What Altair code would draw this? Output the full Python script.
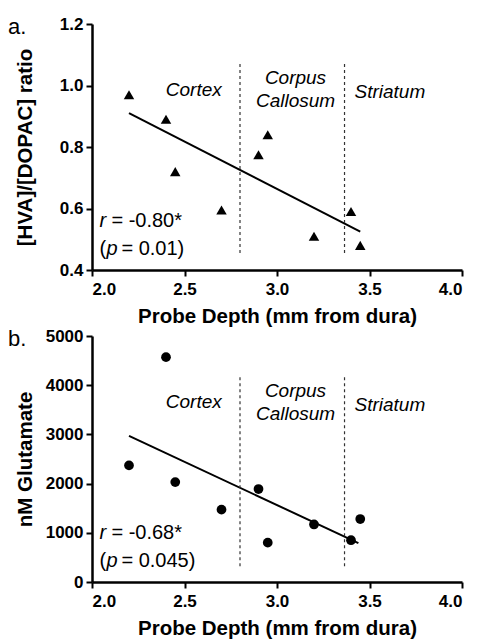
import altair as alt
import pandas as pd

# ---- data ----
depth_a = [2.2, 2.4, 2.45, 2.7, 2.9, 2.95, 3.2, 3.4, 3.45]
ratio_a = [0.97, 0.89, 0.72, 0.595, 0.775, 0.84, 0.51, 0.59, 0.48]
fit_a_x = [2.2, 3.45]
fit_a_y = [0.91, 0.525]

depth_b = [2.2, 2.4, 2.45, 2.7, 2.9, 2.95, 3.2, 3.4, 3.45]
glut_b = [2370, 4570, 2030, 1470, 1890, 800, 1170, 850, 1280]
fit_b_x = [2.2, 3.44]
fit_b_y = [2970, 790]

divider_x = [2.8, 3.365]
region_names = ["Cortex", "Corpus", "Callosum", "Striatum"]
region_x = [2.55, 3.1, 3.1, 3.61]
region_y_a = [0.985, 1.024, 0.95, 0.98]
region_y_b = [3650, 3890, 3420, 3600]

x_ticks = [2.0, 2.5, 3.0, 3.5, 4.0]
y_ticks_a = [0.4, 0.6, 0.8, 1.0, 1.2]
y_ticks_b = [0, 1000, 2000, 3000, 4000, 5000]

FONT = "Liberation Sans"
W = 370
H = 246


def panel(xs, ys, fx, fy, ydom, yticks, yfmt, ytitle, xtitle, shape, size,
          div_y, region_y, r_text, p_text, stat_y, label, title_y):
    pts = pd.DataFrame({"x": xs, "y": ys})
    fit = pd.DataFrame({"x": fx, "y": fy})
    div = pd.DataFrame({"x": divider_x, "y": [div_y[0]] * 2, "y2": [div_y[1]] * 2})
    reg = pd.DataFrame({"x": region_x, "y": region_y, "t": region_names})
    stat = pd.DataFrame({"x": [2.04, 2.04], "y": stat_y})

    xsc = alt.Scale(domain=[2.0, 4.0], nice=False, zero=False)
    ysc = alt.Scale(domain=ydom, nice=False, zero=False)
    xax = alt.Axis(values=x_ticks, format=".1f", title=xtitle, titlePadding=9)
    yax = alt.Axis(values=yticks, format=yfmt, title=ytitle, titleX=-57,
                   titleY=title_y, titleAngle=-90, titleAlign="center",
                   titleBaseline="bottom", labelPadding=3)

    base_x = alt.X("x:Q", scale=xsc, axis=xax)
    base_y = alt.Y("y:Q", scale=ysc, axis=yax)

    points = alt.Chart(pts).mark_point(shape=shape, filled=True, color="black",
                                       size=size, opacity=1).encode(x=base_x, y=base_y)
    line = alt.Chart(fit).mark_line(color="black", strokeWidth=2).encode(x="x:Q", y="y:Q")
    rules = alt.Chart(div).mark_rule(color="#333333", strokeWidth=1.2,
                                     strokeDash=[3, 3]).encode(x="x:Q", y="y:Q", y2="y2:Q")
    regions = alt.Chart(reg).mark_text(font=FONT, fontSize=19, fontStyle="italic",
                                       color="black").encode(x="x:Q", y="y:Q", text="t:N")
    s_r = alt.Chart(stat.iloc[[0]]).mark_text(font=FONT, fontSize=20, fontStyle="italic",
                                              align="left", color="black", text="r").encode(x="x:Q", y="y:Q")
    s_r2 = alt.Chart(stat.iloc[[0]]).mark_text(font=FONT, fontSize=20, align="left",
                                               color="black", dx=12, text=r_text).encode(x="x:Q", y="y:Q")
    s_p1 = alt.Chart(stat.iloc[[1]]).mark_text(font=FONT, fontSize=20, align="left",
                                               color="black", text="(").encode(x="x:Q", y="y:Q")
    s_p2 = alt.Chart(stat.iloc[[1]]).mark_text(font=FONT, fontSize=20, fontStyle="italic",
                                               align="left", color="black", dx=7, text="p").encode(x="x:Q", y="y:Q")
    s_p3 = alt.Chart(stat.iloc[[1]]).mark_text(font=FONT, fontSize=20, align="left",
                                               color="black", dx=22, text=p_text).encode(x="x:Q", y="y:Q")
    lab = alt.Chart(pts.iloc[[0]]).mark_text(font=FONT, fontSize=22, align="left",
                                             baseline="alphabetic", color="black",
                                             text=label).encode(x=alt.value(-84), y=alt.value(10))
    return alt.layer(points, line, rules, regions, s_r, s_r2, s_p1, s_p2, s_p3, lab).properties(
        width=W, height=H)


pa = panel(depth_a, ratio_a, fit_a_x, fit_a_y, [0.4, 1.2], y_ticks_a, ".1f",
           "[HVA]/[DOPAC] ratio", "Probe Depth  (mm from dura)", "triangle-up", 110,
           [1.07, 0.452], region_y_a, "= -0.80*", "= 0.01)", [0.56, 0.468], "a.", 123)
pb = panel(depth_b, glut_b, fit_b_x, fit_b_y, [0, 5000], y_ticks_b, "d",
           "nM Glutamate", "Probe Depth (mm from dura)", "circle", 95,
           [4160, 320], region_y_b, "= -0.68*", "= 0.045)", [990, 420], "b.", 123)

chart = alt.vconcat(pa, pb, spacing=0).properties(
    padding={"left": 0, "top": 7, "right": 5, "bottom": 0}
).configure_view(stroke=None).configure_axis(
    grid=False, domainColor="black", domainWidth=2.5, tickColor="black", tickWidth=2,
    tickSize=6, labelFont=FONT, labelFontWeight="bold", labelFontSize=17,
    labelColor="black", labelPadding=5, titleFont=FONT, titleFontWeight="bold",
    titleFontSize=20.5, titleColor="black"
)

chart.save("out.html", embed_options={"renderer": "svg", "actions": False})
